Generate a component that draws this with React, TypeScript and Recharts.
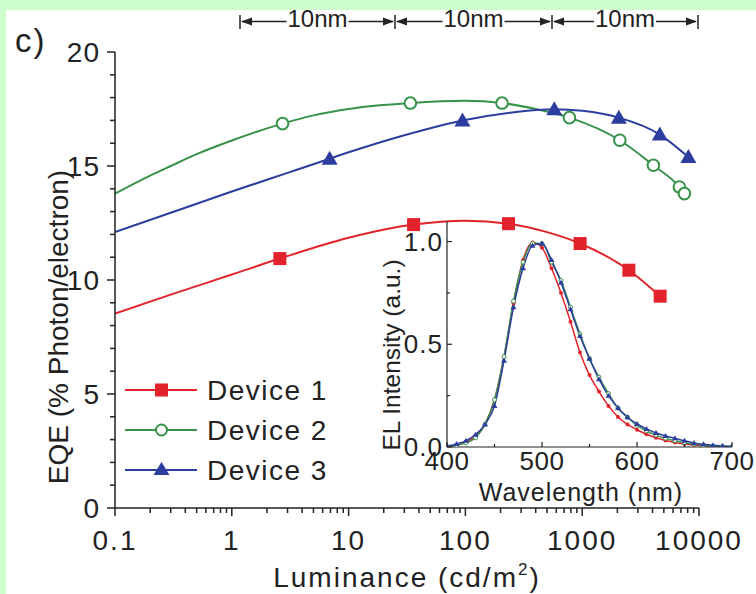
import { ComposedChart, Line, Scatter, XAxis, YAxis } from 'recharts'

const RED = '#e3232b'
const GREEN = '#37924a'
const BLUE = '#2c3d9f'
const INK = '#222'
const FRAME = '#cdfdcc'
const FONT = '"Liberation Sans", Arial, Helvetica, sans-serif'

const deviceNames = ['Device 1', 'Device 2', 'Device 3']

// fitted EQE curves, [luminance cd/m2, EQE %]
const device1Fit = [
  [0.1, 8.53], [0.3, 9.36], [1, 10.24], [2.58, 10.94], [10, 11.85], [36, 12.43],
  [100, 12.6], [234, 12.47], [500, 12.1], [960, 11.6], [2510, 10.43], [4650, 9.29],
]
const device2Fit = [
  [0.1, 13.79], [0.2, 14.58], [0.3, 15.0], [0.5, 15.52], [1, 16.12], [2.72, 16.86],
  [5, 17.22], [10, 17.5], [33.8, 17.76], [100, 17.86], [206, 17.76], [400, 17.5],
  [777, 17.12], [2100, 16.13], [4070, 15.03], [6790, 14.08], [7500, 13.79],
]
const device3Fit = [
  [0.1, 12.1], [0.3, 12.95], [1, 13.88], [3, 14.7], [6.88, 15.32], [10, 15.6],
  [30, 16.35], [94.4, 17.0], [250, 17.35], [577, 17.49], [1000, 17.42], [2060, 17.12],
  [4620, 16.38], [8110, 15.39],
]

// measured points
const device1Points = [[2.58, 10.94], [36, 12.43], [234, 12.47], [960, 11.6], [2510, 10.43], [4650, 9.29]]
const device2Points = [
  [2.72, 16.86], [33.8, 17.76], [206, 17.76], [777, 17.12], [2100, 16.13], [4070, 15.03],
  [6790, 14.08], [7500, 13.79],
]
const device3Points = [[6.88, 15.32], [94.4, 17.0], [577, 17.49], [2060, 17.12], [4620, 16.38], [8110, 15.39]]

const lumMajor = [0.1, 1, 10, 100, 1000, 10000]
const lumTicks = [
  0.1, 0.2, 0.3, 0.4, 0.5, 0.6, 0.7, 0.8, 0.9,
  1, 2, 3, 4, 5, 6, 7, 8, 9,
  10, 20, 30, 40, 50, 60, 70, 80, 90,
  100, 200, 300, 400, 500, 600, 700, 800, 900,
  1000, 2000, 3000, 4000, 5000, 6000, 7000, 8000, 9000,
  10000,
]
const eqeTicks = [0, 1, 2, 3, 4, 5, 6, 7, 8, 9, 10, 11, 12, 13, 14, 15, 16, 17, 18, 19, 20]

// inset: EL spectra
const wavelengths = [
  400, 410, 420, 430, 440, 450, 460, 470, 480, 490, 500, 510, 520, 530, 540, 550,
  560, 570, 580, 590, 600, 610, 620, 630, 640, 650, 660, 670, 680, 690, 700,
]
const el1 = [
  0.003, 0.01, 0.025, 0.05, 0.11, 0.23, 0.44, 0.7, 0.91, 0.995, 0.97, 0.87, 0.75, 0.61, 0.46, 0.35,
  0.27, 0.2, 0.146, 0.11, 0.084, 0.062, 0.045, 0.032, 0.022, 0.015, 0.01, 0.006, 0.004, 0.002, 0.001,
]
const el2 = [
  0.002, 0.008, 0.02, 0.045, 0.11, 0.23, 0.44, 0.71, 0.9, 0.99, 0.99, 0.9, 0.81, 0.68, 0.55, 0.43,
  0.34, 0.26, 0.19, 0.145, 0.105, 0.078, 0.058, 0.042, 0.03, 0.021, 0.014, 0.009, 0.005, 0.003, 0.002,
]
const el3 = [
  0.005, 0.015, 0.03, 0.06, 0.11, 0.2, 0.42, 0.68, 0.87, 0.98, 0.99, 0.91, 0.8, 0.67, 0.54, 0.43,
  0.33, 0.25, 0.19, 0.145, 0.112, 0.088, 0.068, 0.054, 0.042, 0.03, 0.02, 0.013, 0.008, 0.005, 0.003,
]
const nmTicks = [400, 450, 500, 550, 600, 650, 700]
const elTicks = [0, 0.25, 0.5, 0.75, 1.0]

const toRows = (pairs: number[][]) => pairs.map(([lum, eqe]) => ({ lum, eqe }))
const spectrum = (vals: number[]) => wavelengths.map((nm, i) => ({ nm, el: vals[i] }))

const LumTick = (props: any) => {
  const { x, y, payload } = props
  const v = payload.value as number
  const major = lumMajor.includes(v)
  return (
    <g>
      <line x1={x} x2={x} y1={y} y2={y + (major ? 8 : 5)} stroke={INK} strokeWidth={1.5} />
      {major && (
        <text x={x} y={y + 42} textAnchor="middle" fontSize={28} letterSpacing={2} fill={INK} fontFamily={FONT}>
          {String(v)}
        </text>
      )}
    </g>
  )
}

const EqeTick = (props: any) => {
  const { x, y, payload } = props
  const v = payload.value as number
  const major = v % 5 === 0
  return (
    <g>
      <line x1={x} x2={x - (major ? 8 : 5)} y1={y} y2={y} stroke={INK} strokeWidth={1.5} />
      {major && (
        <text x={x - 15} y={y + 10} textAnchor="end" fontSize={28} letterSpacing={1} fill={INK} fontFamily={FONT}>
          {String(v)}
        </text>
      )}
    </g>
  )
}

const NmTick = (props: any) => {
  const { x, y, payload } = props
  const v = payload.value as number
  const major = v % 100 === 0
  return (
    <g>
      <line x1={x} x2={x} y1={y} y2={y - (major ? 5 : 3)} stroke={INK} strokeWidth={1.2} />
      {major && (
        <text x={x} y={y + 23} textAnchor="middle" fontSize={26} letterSpacing={0.5} fill={INK} fontFamily={FONT}>
          {String(v)}
        </text>
      )}
    </g>
  )
}

const ElTick = (props: any) => {
  const { x, y, payload } = props
  const v = payload.value as number
  const major = v === 0 || v === 0.5 || v === 1
  return (
    <g>
      <line x1={x} x2={x + (major ? 5 : 3)} y1={y} y2={y} stroke={INK} strokeWidth={1.2} />
      {major && (
        <text x={x - 4} y={y + 9} textAnchor="end" fontSize={26} letterSpacing={1} fill={INK} fontFamily={FONT}>
          {v.toFixed(1)}
        </text>
      )}
    </g>
  )
}

const SquareMark = (p: any) => <rect x={p.cx - 6.5} y={p.cy - 6.5} width={13} height={13} fill={RED} />
const CircleMark = (p: any) => <circle cx={p.cx} cy={p.cy} r={5.8} fill="#fff" stroke={GREEN} strokeWidth={2} />
const TriangleMark = (p: any) => (
  <path d={`M${p.cx},${p.cy - 8} L${p.cx + 8},${p.cy + 6} L${p.cx - 8},${p.cy + 6} Z`} fill={BLUE} />
)

const redDot = (p: any) => <circle key={`r${p.index}`} cx={p.cx} cy={p.cy} r={2} fill={RED} />
const greenDot = (p: any) => (
  <circle key={`g${p.index}`} cx={p.cx} cy={p.cy} r={2} fill="#fff" stroke={GREEN} strokeWidth={1} />
)
const blueDot = (p: any) => (
  <path key={`b${p.index}`} d={`M${p.cx},${p.cy - 3} L${p.cx + 3},${p.cy + 2} L${p.cx - 3},${p.cy + 2} Z`} fill={BLUE} />
)

const legendMarks = [
  (cx: number, cy: number) => <rect x={cx - 6.5} y={cy - 6.5} width={13} height={13} fill={RED} />,
  (cx: number, cy: number) => <circle cx={cx} cy={cy} r={5.5} fill="#fff" stroke={GREEN} strokeWidth={2} />,
  (cx: number, cy: number) => <path d={`M${cx},${cy - 8} L${cx + 8},${cy + 5} L${cx - 8},${cy + 5} Z`} fill={BLUE} />,
]
const legendColors = [RED, GREEN, BLUE]

const scaleBars = [240, 395, 552, 698]

function App() {
  return (
    <div
      style={{
        position: 'fixed',
        left: 0,
        top: 0,
        width: 756,
        height: 594,
        background: '#fff',
        overflow: 'hidden',
        fontFamily: FONT,
      }}
    >
      <div style={{ position: 'absolute', left: 0, top: 0 }}>
        <ComposedChart width={756} height={594} margin={{ top: 52, right: 57, bottom: 26, left: 15 }}>
          <XAxis
            dataKey="lum"
            type="number"
            scale="log"
            domain={[0.1, 10000]}
            allowDataOverflow
            ticks={lumTicks}
            interval={0}
            tickSize={0}
            tickMargin={0}
            tickLine={false}
            tick={LumTick}
            axisLine={{ stroke: INK, strokeWidth: 1.5 }}
            height={60}
          />
          <YAxis
            dataKey="eqe"
            type="number"
            domain={[0, 20]}
            allowDataOverflow
            ticks={eqeTicks}
            interval={0}
            tickSize={0}
            tickMargin={0}
            tickLine={false}
            tick={EqeTick}
            axisLine={{ stroke: INK, strokeWidth: 1.5 }}
            width={100}
          />
          <Line data={toRows(device1Fit)} dataKey="eqe" type="monotone" stroke={RED} strokeWidth={2} dot={false} isAnimationActive={false} />
          <Line data={toRows(device2Fit)} dataKey="eqe" type="monotone" stroke={GREEN} strokeWidth={2} dot={false} isAnimationActive={false} />
          <Line data={toRows(device3Fit)} dataKey="eqe" type="monotone" stroke={BLUE} strokeWidth={2} dot={false} isAnimationActive={false} />
          <Scatter name={deviceNames[0]} data={toRows(device1Points)} dataKey="eqe" shape={SquareMark} isAnimationActive={false} />
          <Scatter name={deviceNames[1]} data={toRows(device2Points)} dataKey="eqe" shape={CircleMark} isAnimationActive={false} />
          <Scatter name={deviceNames[2]} data={toRows(device3Points)} dataKey="eqe" shape={TriangleMark} isAnimationActive={false} />
        </ComposedChart>
      </div>

      <div style={{ position: 'absolute', left: 390, top: 200 }}>
        <ComposedChart width={366} height={310} margin={{ top: 21, right: 24, bottom: 23, left: 1 }}>
          <XAxis
            dataKey="nm"
            type="number"
            domain={[400, 700]}
            allowDataOverflow
            ticks={nmTicks}
            interval={0}
            tickSize={0}
            tickMargin={0}
            tickLine={false}
            tick={NmTick}
            axisLine={{ stroke: INK, strokeWidth: 1.2 }}
            height={40}
          />
          <YAxis
            dataKey="el"
            type="number"
            domain={[0, 1.1]}
            allowDataOverflow
            ticks={elTicks}
            interval={0}
            tickSize={0}
            tickMargin={0}
            tickLine={false}
            tick={ElTick}
            axisLine={{ stroke: INK, strokeWidth: 1.2 }}
            width={56}
          />
          <Line data={spectrum(el1)} dataKey="el" type="monotone" stroke={RED} strokeWidth={1.5} dot={redDot} isAnimationActive={false} />
          <Line data={spectrum(el2)} dataKey="el" type="monotone" stroke={GREEN} strokeWidth={1.5} dot={greenDot} isAnimationActive={false} />
          <Line data={spectrum(el3)} dataKey="el" type="monotone" stroke={BLUE} strokeWidth={1.5} dot={blueDot} isAnimationActive={false} />
        </ComposedChart>
      </div>

      <svg width={756} height={594} style={{ position: 'absolute', left: 0, top: 0, pointerEvents: 'none' }}>
        <text x={15} y={52} fontSize={33} letterSpacing={2} fill={INK} fontFamily={FONT}>
          c)
        </text>

        <text transform="translate(68 327) rotate(-90)" textAnchor="middle" fontSize={28} fill={INK} fontFamily={FONT}>
          EQE (% Photon/electron)
        </text>
        <text x={407} y={587} textAnchor="middle" fontSize={28} letterSpacing={2} fill={INK} fontFamily={FONT}>
          Luminance (cd/m
          <tspan dy={-12} fontSize={17}>2</tspan>
          <tspan dy={12}>)</tspan>
        </text>

        <text transform="translate(400 355) rotate(-90)" textAnchor="middle" fontSize={24.5} fill={INK} fontFamily={FONT}>
          EL Intensity (a.u.)
        </text>
        <text x={581} y={501} textAnchor="middle" fontSize={25} letterSpacing={1} fill={INK} fontFamily={FONT}>
          Wavelength (nm)
        </text>

        {scaleBars.map((x) => (
          <line key={`bar${x}`} x1={x} x2={x} y1={15} y2={29} stroke={INK} strokeWidth={1.5} />
        ))}
        {scaleBars.slice(0, -1).map((a, i) => {
          const b = scaleBars[i + 1]
          const c = (a + b) / 2
          return (
            <g key={`seg${a}`}>
              <line x1={a + 2} x2={c - 31} y1={21.5} y2={21.5} stroke={INK} strokeWidth={1.5} />
              <line x1={c + 31} x2={b - 2} y1={21.5} y2={21.5} stroke={INK} strokeWidth={1.5} />
              <path d={`M${a + 1},21.5 L${a + 12},17.5 L${a + 12},25.5 Z`} fill={INK} />
              <path d={`M${b - 1},21.5 L${b - 12},17.5 L${b - 12},25.5 Z`} fill={INK} />
              <text x={c} y={27} textAnchor="middle" fontSize={24} fill={INK} fontFamily={FONT}>
                10nm
              </text>
            </g>
          )
        })}

        {deviceNames.map((name, i) => {
          const cy = 390 + i * 40
          return (
            <g key={name}>
              <line x1={125} x2={197} y1={cy} y2={cy} stroke={legendColors[i]} strokeWidth={2} />
              {legendMarks[i](161.5, cy)}
              <text x={207} y={cy + 10} fontSize={28} letterSpacing={1.5} fill={INK} fontFamily={FONT}>
                {name}
              </text>
            </g>
          )
        })}
      </svg>

      <div style={{ position: 'absolute', left: 0, top: 0, width: 756, height: 10, background: FRAME }} />
      <div style={{ position: 'absolute', left: 0, top: 0, width: 6, height: 594, background: FRAME }} />
    </div>
  )
}

export default App
